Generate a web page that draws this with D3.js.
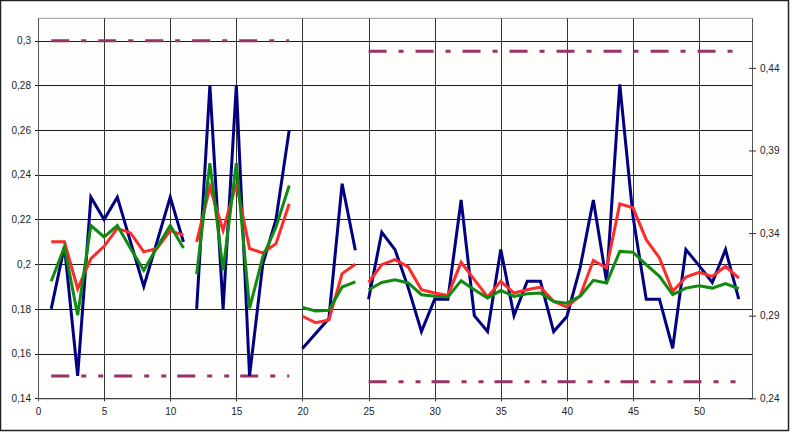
<!DOCTYPE html>
<html>
<head>
<meta charset="utf-8">
<script src="https://cdn.jsdelivr.net/npm/d3@7"></script>
<style>
  html, body { margin: 0; padding: 0; background: #ffffff; }
  svg { display: block; }
  text { font-family: "Liberation Sans", Arial, sans-serif; font-size: 10px; fill: #222; }
</style>
</head>
<body>
<svg id="chart" width="800" height="440"></svg>
<script>
// ---------- DATA ----------
const xTicks = [0, 5, 10, 15, 20, 25, 30, 35, 40, 45, 50];
const leftTicks = [0.14, 0.16, 0.18, 0.2, 0.22, 0.24, 0.26, 0.28, 0.3];
const leftTickLabels = ["0,14", "0,16", "0,18", "0,2", "0,22", "0,24", "0,26", "0,28", "0,3"];
const rightTicks = [0.24, 0.29, 0.34, 0.39, 0.44];
const rightTickLabels = ["0,24", "0,29", "0,34", "0,39", "0,44"];

// segment A: x = 1..11 (left axis)
const xA = [1, 2, 3, 4, 5, 6, 7, 8, 9, 10, 11];
const blueA  = [0.18, 0.208, 0.15, 0.23, 0.22, 0.23, 0.21, 0.19, 0.21, 0.23, 0.21];
const redA   = [0.21, 0.21, 0.189, 0.2025, 0.208, 0.216, 0.214, 0.2055, 0.207, 0.215, 0.213];
const greenA = [0.1924, 0.2077, 0.1772, 0.2173, 0.2122, 0.2173, 0.207, 0.1973, 0.2075, 0.2173, 0.2072];

// segment B: x = 12..19 (left axis)
const xB = [12, 13, 14, 15, 16, 17, 18, 19];
const blueB  = [0.18, 0.28, 0.18, 0.28, 0.15, 0.20, 0.22, 0.26];
const redB   = [0.21, 0.2345, 0.2151, 0.236, 0.207, 0.205, 0.2092, 0.227];
const greenB = [0.1955, 0.2452, 0.1973, 0.2452, 0.1802, 0.2032, 0.2166, 0.2352];

// segment C: x = 20..24 (left axis)
const xC = [20, 21, 22, 23, 24];
const blueC  = [0.1623, 0.169, 0.1757, 0.236, 0.2062];
const redC   = [0.1767, 0.1738, 0.175, 0.1958, 0.2];
const greenC = [0.1806, 0.1791, 0.1794, 0.1898, 0.1921];

// segment D: x = 25..53 (right axis)
const xD = [25, 26, 27, 28, 29, 30, 31, 32, 33, 34, 35, 36, 37, 38, 39, 40, 41, 42, 43, 44, 45, 46, 47, 48, 49, 50, 51, 52, 53];
const blueD  = [0.300, 0.3405, 0.330, 0.307, 0.2804, 0.300, 0.300, 0.360, 0.290, 0.2804, 0.330, 0.290, 0.3108, 0.3108, 0.2804, 0.2895, 0.319, 0.360, 0.3108, 0.430, 0.350, 0.300, 0.300, 0.2703, 0.330, 0.3203, 0.3101, 0.330, 0.300];
const redD   = [0.3101, 0.3209, 0.3239, 0.3195, 0.3057, 0.3037, 0.3023, 0.3223, 0.3118, 0.3013, 0.3108, 0.3037, 0.3057, 0.3073, 0.2986, 0.2952, 0.3021, 0.3235, 0.3189, 0.3577, 0.3553, 0.336, 0.325, 0.3047, 0.3134, 0.3162, 0.3138, 0.3199, 0.3128];
const greenD = [0.3057, 0.3101, 0.3118, 0.3098, 0.3027, 0.3017, 0.3013, 0.3112, 0.3057, 0.3007, 0.3053, 0.3017, 0.3033, 0.3037, 0.2986, 0.2976, 0.3017, 0.3114, 0.3098, 0.3289, 0.3284, 0.3209, 0.3138, 0.3027, 0.3067, 0.3081, 0.3067, 0.3094, 0.3063];

// limit lines
const leftLimitX = [1, 19];
const leftUpper = 0.30, leftLower = 0.15;
const rightLimitX = [25, 53];
const rightUpper = 0.45, rightLower = 0.25;

// ---------- LAYOUT ----------
const svg = d3.select("#chart");
const plot = { left: 38, right: 752, top: 18.3, bottom: 398.3 };

const x = d3.scaleLinear().domain([0, 54]).range([plot.left, plot.right]);
const yL = d3.scaleLinear().domain([0.14, 0.31]).range([plot.bottom, plot.top]);
const yR = d3.scaleLinear().domain([0.24, 0.47]).range([plot.bottom, plot.top]);

// outer frame
svg.append("rect").attr("x", 0.5).attr("y", 0.5).attr("width", 788).attr("height", 430)
  .attr("fill", "#ffffff").attr("stroke", "#222").attr("stroke-width", 1.5);

// plot background
svg.append("rect").attr("x", plot.left).attr("y", plot.top)
  .attr("width", plot.right - plot.left).attr("height", plot.bottom - plot.top)
  .attr("fill", "#fdfdfb");

// top border (gray)
svg.append("line").attr("x1", plot.left).attr("x2", plot.right)
  .attr("y1", yL(0.31)).attr("y2", yL(0.31)).attr("stroke", "#999").attr("stroke-width", 1);

// horizontal gridlines (left ticks)
const gH = svg.append("g");
leftTicks.forEach(t => {
  gH.append("line").attr("x1", plot.left - 3).attr("x2", plot.right)
    .attr("y1", Math.round(yL(t)) + 0.5).attr("y2", Math.round(yL(t)) + 0.5)
    .attr("stroke", "#1a1a1a").attr("stroke-width", 1);
});

// vertical gridlines
xTicks.forEach(t => {
  gH.append("line").attr("x1", Math.round(x(t)) + 0.5).attr("x2", Math.round(x(t)) + 0.5)
    .attr("y1", plot.top).attr("y2", plot.bottom + 3)
    .attr("stroke", t === 0 ? "#555" : "#333").attr("stroke-width", 1);
});

// right axis line
svg.append("line").attr("x1", plot.right + 0.5).attr("x2", plot.right + 0.5)
  .attr("y1", plot.top).attr("y2", plot.bottom).attr("stroke", "#555").attr("stroke-width", 1);

// left axis (labels only; ticks as gridline extensions)
const leftAxis = d3.axisLeft(yL).tickValues(leftTicks)
  .tickFormat((d, i) => leftTickLabels[i]).tickSize(0).tickPadding(7);
const gLA = svg.append("g").attr("transform", `translate(${plot.left},0)`).call(leftAxis);
gLA.select(".domain").remove();
gLA.selectAll("text").attr("fill", "#222").style("font-size", "10px")
  .style("font-family", '"Liberation Sans", Arial, sans-serif');

// bottom axis
const bottomAxis = d3.axisBottom(x).tickValues(xTicks).tickSize(0).tickPadding(10);
const gBA = svg.append("g").attr("transform", `translate(0,${plot.bottom})`).call(bottomAxis);
gBA.select(".domain").attr("stroke", "#555");
gBA.selectAll("text").attr("fill", "#222").style("font-size", "10px")
  .style("font-family", '"Liberation Sans", Arial, sans-serif');

// right axis
const rightAxis = d3.axisRight(yR).tickValues(rightTicks)
  .tickFormat((d, i) => rightTickLabels[i]).tickSizeInner(4).tickSizeOuter(0).tickPadding(4);
const gRA = svg.append("g").attr("transform", `translate(${plot.right},0)`).call(rightAxis);
gRA.select(".domain").remove();
gRA.selectAll(".tick line").attr("x1", -3).attr("stroke", "#333");
gRA.selectAll("text").attr("fill", "#222").style("font-size", "10px")
  .style("font-family", '"Liberation Sans", Arial, sans-serif');

// ---------- LIMIT LINES ----------
const limColor = "#993366";
function limit(xs, yScale, v, dash) {
  svg.append("line")
    .attr("x1", x(xs[0])).attr("x2", x(xs[1]))
    .attr("y1", yScale(v)).attr("y2", yScale(v))
    .attr("stroke", limColor).attr("stroke-width", 3)
    .attr("stroke-dasharray", dash);
}
const dashDot = "18,12,5,12";
const dashDotDot = "18,12,5,12,5,11";
limit(leftLimitX, yL, leftUpper, dashDot);
limit(leftLimitX, yL, leftLower, dashDotDot);
limit(rightLimitX, yR, rightUpper, dashDot);
limit(rightLimitX, yR, rightLower, dashDotDot);

// ---------- SERIES ----------
const segments = [
  { xs: xA, scale: yL, blue: blueA, red: redA, green: greenA },
  { xs: xB, scale: yL, blue: blueB, red: redB, green: greenB },
  { xs: xC, scale: yL, blue: blueC, red: redC, green: greenC },
  { xs: xD, scale: yR, blue: blueD, red: redD, green: greenD }
];
const colors = { blue: "#000080", red: "#ff2a2a", green: "#118a11" };

["blue", "red", "green"].forEach(key => {
  segments.forEach(seg => {
    const pts = seg.xs.map((xv, i) => [xv, seg[key][i]]);
    const line = d3.line().x(d => x(d[0])).y(d => seg.scale(d[1]));
    svg.append("path").datum(pts)
      .attr("d", line)
      .attr("fill", "none")
      .attr("stroke", colors[key])
      .attr("stroke-width", 3)
      .attr("stroke-linejoin", "miter")
      .attr("stroke-miterlimit", 4);
  });
});
</script>
</body>
</html>
